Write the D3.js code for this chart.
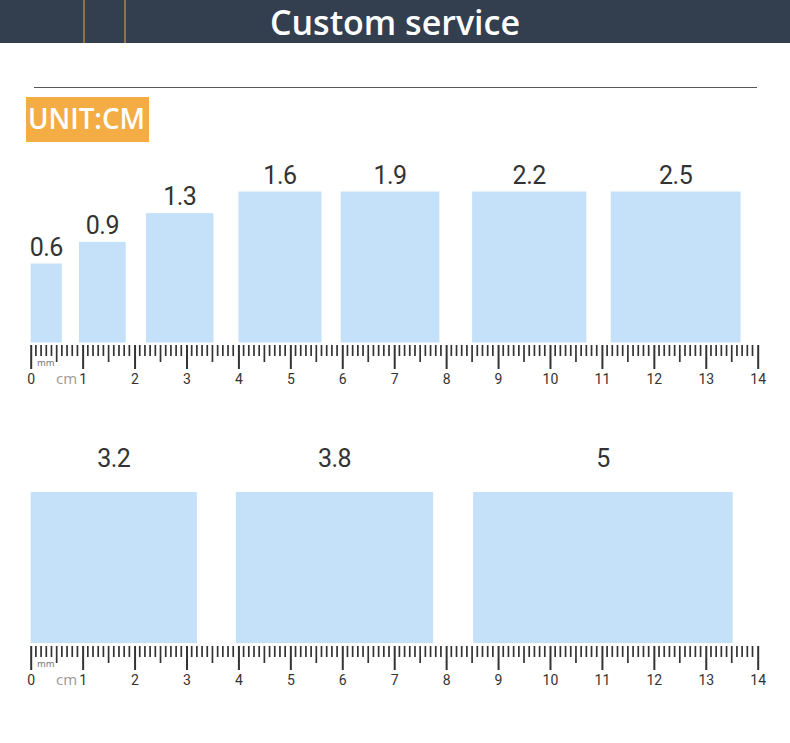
<!DOCTYPE html>
<html>
<head>
<meta charset="utf-8">
<script src="https://cdn.jsdelivr.net/npm/d3@7"></script>
<style>
  body { margin: 0; background: #fff; }
  svg { display: block; }
</style>
</head>
<body>
<div id="chart"></div>
<script>
// sizes in cm, and where each sample sits on its ruler (cm)
const row1Sizes = [0.6, 0.9, 1.3, 1.6, 1.9, 2.2, 2.5];
const row1Starts = [0, 0.93, 2.22, 4.0, 5.97, 8.5, 11.17];
const row2Sizes = [3.2, 3.8, 5];
const row2Starts = [0, 3.95, 8.52];
const rulerLabels = [0, 1, 2, 3, 4, 5, 6, 7, 8, 9, 10, 11, 12, 13, 14];

const width = 790, height = 743;

const svg = d3.select("#chart")
    .append("svg")
    .attr("width", width)
    .attr("height", height);

// header
svg.append("rect")
    .attr("x", 0).attr("y", 0)
    .attr("width", width).attr("height", 43)
    .attr("fill", "#333f4f");

[84, 125].forEach(x => {
    svg.append("line")
        .attr("x1", x).attr("x2", x)
        .attr("y1", 0).attr("y2", 43)
        .attr("stroke", "#e8a83c")
        .attr("stroke-width", 1);
});

svg.append("text")
    .attr("x", 395)
    .attr("y", 35)
    .attr("text-anchor", "middle")
    .style("font-family", "'Open Sans', sans-serif")
    .style("font-weight", 600)
    .style("font-size", "34px")
    .style("fill", "#fff")
    .text("Custom service");

svg.append("line")
    .attr("x1", 34).attr("x2", 757)
    .attr("y1", 87.5).attr("y2", 87.5)
    .attr("stroke", "#555")
    .attr("stroke-width", 1);

svg.append("rect")
    .attr("x", 26).attr("y", 97)
    .attr("width", 123).attr("height", 45)
    .attr("fill", "#f4ad44");

svg.append("text")
    .attr("x", 28)
    .attr("y", 129)
    .attr("textLength", 117)
    .attr("lengthAdjust", "spacingAndGlyphs")
    .style("font-family", "'Open Sans', sans-serif")
    .style("font-weight", 600)
    .style("font-size", "28px")
    .style("fill", "#fff")
    .text("UNIT:CM");

const x = d3.scaleLinear()
    .domain([0, 14])
    .range([30.7, 757.7]);

// drawn height of a sample (not to scale in the picture, tops out at 1.6)
const h = d3.scaleLinear()
    .domain([0.6, 1.6])
    .range([79, 151])
    .clamp(true);

function drawRow(sizes, starts, baseY, labelGap) {
    const g = svg.append("g");
    const items = sizes.map((s, i) => ({ size: s, start: starts[i] }));

    g.selectAll("rect")
        .data(items)
        .enter()
        .append("rect")
        .attr("x", d => x(d.start))
        .attr("y", d => baseY - h(d.size))
        .attr("width", d => x(d.start + d.size) - x(d.start))
        .attr("height", d => h(d.size))
        .attr("fill", "#c5e1f9");

    g.selectAll("text")
        .data(items)
        .enter()
        .append("text")
        .attr("x", d => x(d.start + d.size / 2))
        .attr("y", d => baseY - h(d.size) - labelGap)
        .attr("text-anchor", "middle")
        .style("font-family", "Roboto, sans-serif")
        .style("font-size", "25px")
        .style("letter-spacing", "-0.5px")
        .style("fill", "#333")
        .text(d => d.size);
}

function drawRuler(topY) {
    const g = svg.append("g");

    // mm and half cm ticks
    const mm = d3.range(0, 141).filter(m => m % 10 !== 0);
    g.selectAll("line.mm")
        .data(mm)
        .enter()
        .append("line")
        .attr("class", "mm")
        .attr("x1", m => x(m / 10)).attr("x2", m => x(m / 10))
        .attr("y1", topY)
        .attr("y2", m => topY + (m % 5 === 0 ? 17 : 11))
        .attr("stroke", "#333")
        .attr("stroke-width", 1.7);

    const axis = d3.axisBottom(x)
        .tickValues(rulerLabels)
        .tickFormat(d3.format("d"))
        .tickSize(24)
        .tickPadding(5);

    const ax = g.append("g")
        .attr("transform", `translate(0,${topY})`)
        .call(axis);
    ax.select(".domain").remove();
    ax.selectAll(".tick line")
        .attr("stroke", "#333")
        .attr("stroke-width", 2);
    ax.selectAll(".tick text")
        .style("font-family", "Roboto, sans-serif")
        .style("font-size", "14px")
        .style("fill", "#333");

    g.append("text")
        .attr("x", 37)
        .attr("y", topY + 21)
        .style("font-family", "'DejaVu Sans', sans-serif")
        .style("font-size", "9px")
        .style("fill", "#777")
        .text("mm");

    g.append("text")
        .attr("x", 56)
        .attr("y", topY + 39)
        .style("font-family", "'Open Sans', sans-serif")
        .style("font-size", "15px")
        .style("fill", "#999")
        .text("cm");
}

drawRow(row1Sizes, row1Starts, 342.5, 8);
drawRuler(345);
drawRow(row2Sizes, row2Starts, 643, 25);
drawRuler(646);
</script>
</body>
</html>
